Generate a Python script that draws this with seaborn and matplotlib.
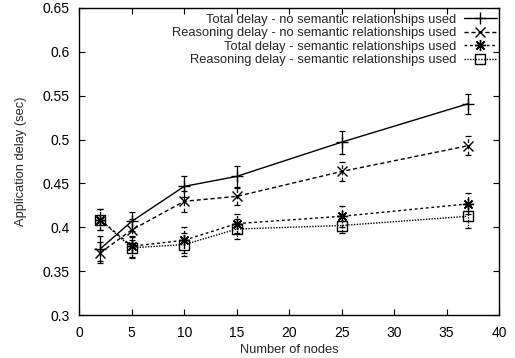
import matplotlib
matplotlib.use("Agg")
import matplotlib.pyplot as plt
import seaborn as sns
import pandas as pd

nodes = [2, 5, 10, 15, 25, 37]

labels = [
    "Total delay - no semantic relationships used",
    "Reasoning delay - no semantic relationships used",
    "Total delay - semantic relationships used",
    "Reasoning delay - semantic relationships used",
]

total_nosem = [0.3755, 0.4068, 0.4466, 0.458, 0.497, 0.5406]
reason_nosem = [0.371, 0.397, 0.4296, 0.4352, 0.4636, 0.4928]
total_sem = [0.4088, 0.3784, 0.3852, 0.4042, 0.4125, 0.4266]
reason_sem = [0.4085, 0.3766, 0.3803, 0.398, 0.402, 0.4125]

err_total_nosem = [0.014, 0.011, 0.012, 0.012, 0.013, 0.011]
err_reason_nosem = [0.012, 0.012, 0.012, 0.010, 0.011, 0.011]
err_total_sem = [0.012, 0.012, 0.015, 0.011, 0.012, 0.012]
err_reason_sem = [0.012, 0.012, 0.013, 0.011, 0.009, 0.013]

x_ticks = [0, 5, 10, 15, 20, 25, 30, 35, 40]
y_ticks = [0.3, 0.35, 0.4, 0.45, 0.5, 0.55, 0.6, 0.65]
y_tick_labels = ["0.3", "0.35", "0.4", "0.45", "0.5", "0.55", "0.6", "0.65"]

sns.set_style("ticks")
plt.rcParams["font.family"] = ["Liberation Sans", "DejaVu Sans"]
plt.rcParams["font.size"] = 9

fig = plt.figure(figsize=(5.15, 3.58), dpi=100)
ax = fig.add_axes([0.154, 0.120, 0.815, 0.858])

series = [total_nosem, reason_nosem, total_sem, reason_sem]
errs = [err_total_nosem, err_reason_nosem, err_total_sem, err_reason_sem]
linestyles = ["-", (0, (3, 2)), (0, (2, 2)), (0, (1, 1))]
markers = ["+", "x", (8, 2, 0), "s"]
msizes = [9, 7, 8, 7]

for vals, er, ls, mk, ms, lab in zip(series, errs, linestyles, markers, msizes, labels):
    df = pd.DataFrame({"nodes": nodes, "delay": vals})
    eb = ax.errorbar(df["nodes"], df["delay"], yerr=er, fmt="none", ecolor="black",
                     elinewidth=0.9, capsize=2.5, capthick=0.9, zorder=2)
    for c in eb[2]:
        c.set_linestyle(ls)
    sns.lineplot(data=df, x="nodes", y="delay", ax=ax, color="black", linewidth=1.0,
                 linestyle=ls, marker=mk, markersize=ms, markeredgewidth=1.0,
                 markerfacecolor="none", markeredgecolor="black", label=lab, zorder=3)

ax.set_xlim(0, 40)
ax.set_ylim(0.3, 0.65)
ax.set_xticks(x_ticks)
ax.set_yticks(y_ticks)
ax.set_yticklabels(y_tick_labels)
ax.set_xlabel("Number of nodes", fontsize=9.3, labelpad=3)
ax.set_ylabel("Application delay (sec)", fontsize=9.3, labelpad=11)
ax.tick_params(direction="in", length=4, width=0.8, top=True, right=True, labelsize=10,
               colors="black")
ax.tick_params(axis="x", pad=8)
ax.tick_params(axis="y", pad=7)
for s in ax.spines.values():
    s.set_linewidth(1.0)
    s.set_color("black")

leg = ax.legend(loc="upper right", bbox_to_anchor=(1.0, 0.988), markerfirst=False,
                frameon=False, handlelength=2.6, handletextpad=0.55, labelspacing=0.12,
                fontsize=9.3, borderaxespad=0.0, borderpad=0.15)

fig.savefig("out.png", dpi=100)
